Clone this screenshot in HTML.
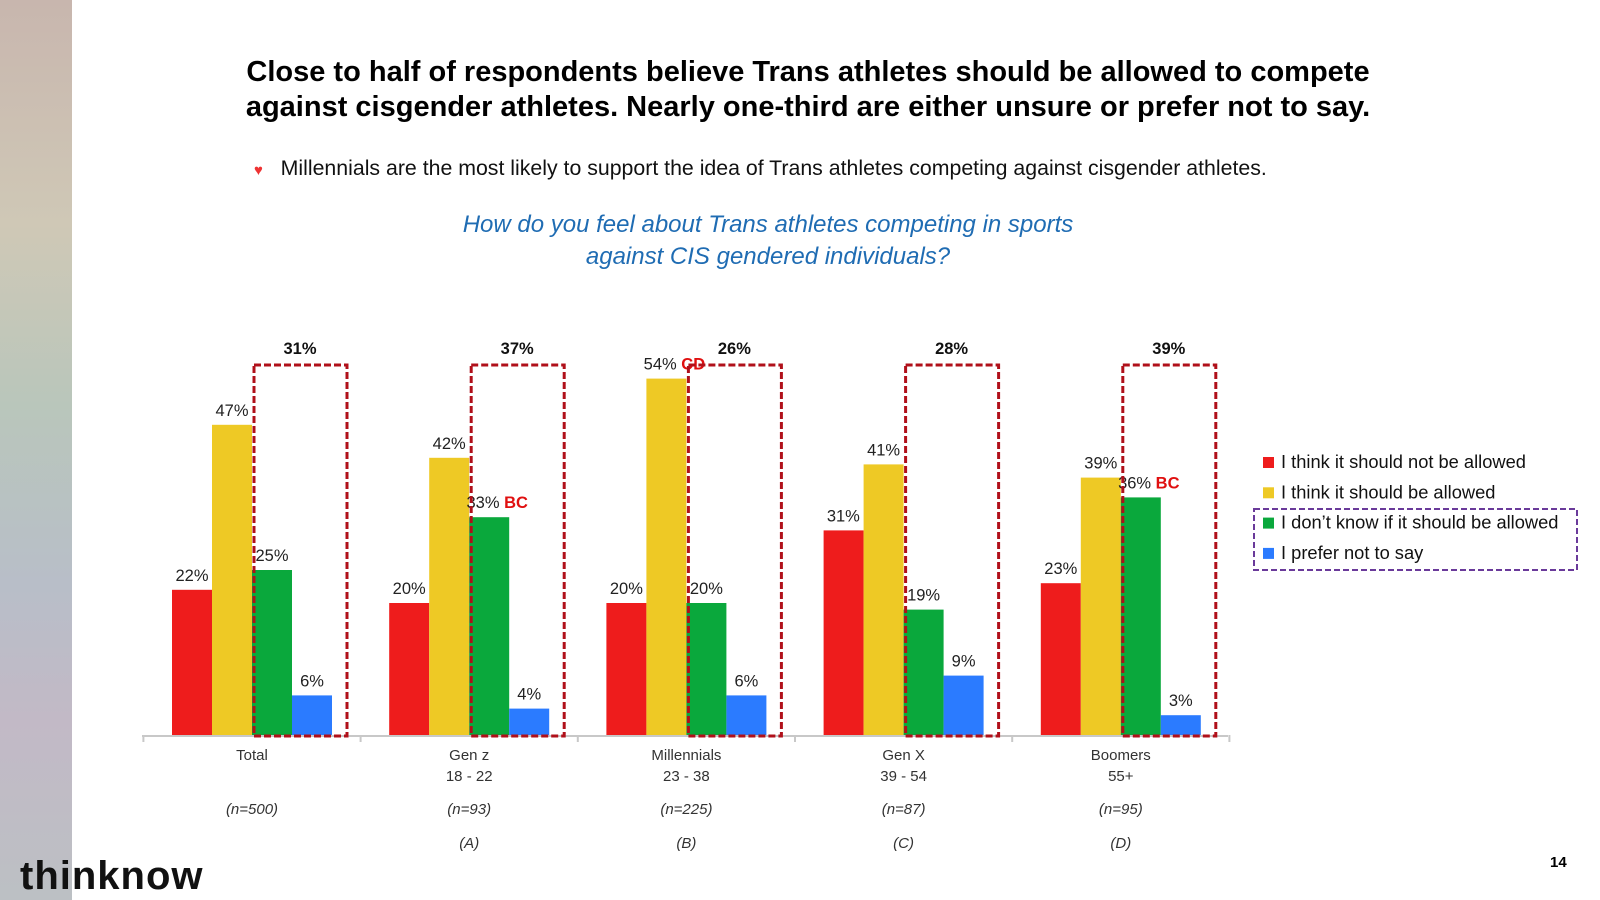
<!DOCTYPE html>
<html><head><meta charset="utf-8">
<style>
html,body{margin:0;padding:0;background:#fff;}
body{width:1600px;height:900px;position:relative;overflow:hidden;font-family:"Liberation Sans",sans-serif;}
.strip{position:absolute;left:0;top:0;width:72px;height:900px;background:linear-gradient(180deg,#c8b6ae 0%,#cfc8b6 25%,#b9c6bb 45%,#b8bec8 65%,#c2b9c6 80%,#bcc0c4 100%);}
.title{position:absolute;left:60px;width:1496px;top:55px;text-align:center;font-weight:bold;font-size:29px;line-height:35px;color:#000;}
.bullet{position:absolute;left:254px;top:156px;font-size:21.3px;color:#111;white-space:nowrap;}
.sub{position:absolute;left:318px;width:900px;top:209px;text-align:center;font-style:italic;font-size:24px;line-height:32px;color:#1f6cb3;}
.logo{position:absolute;left:20px;top:856px;font-size:40px;font-weight:bold;letter-spacing:1px;color:#111;line-height:1;}
.pg{position:absolute;left:1550px;top:854px;font-size:15px;font-weight:bold;}
svg{position:absolute;left:0;top:0;}
</style></head>
<body>
<div class="strip"></div>
<div class="title">Close to half of respondents believe Trans athletes should be allowed to compete<br>against cisgender athletes. Nearly one-third are either unsure or prefer not to say.</div>
<div class="bullet"><span style="color:#e33;font-size:15px">&#9829;</span>&nbsp;&nbsp;&nbsp;Millennials are the most likely to support the idea of Trans athletes competing against cisgender athletes.</div>
<div class="sub">How do you feel about Trans athletes competing in sports<br>against CIS gendered individuals?</div>
<div class="logo">thinknow</div>
<div class="pg">14</div>
<svg id="chart" width="1600" height="900"></svg>
<script>
const categories=["Total","Gen z","Millennials","Gen X","Boomers"];
const subLabels=["","18 - 22","23 - 38","39 - 54","55+"];
const sampleSizes=["(n=500)","(n=93)","(n=225)","(n=87)","(n=95)"];
const groupCodes=["","(A)","(B)","(C)","(D)"];
const seriesNames=["I think it should not be allowed","I think it should be allowed","I don\u2019t know if it should be allowed","I prefer not to say"];
const notAllowed=[22,20,20,31,23];
const allowed=[47,42,54,41,39];
const dontKnow=[25,33,20,19,36];
const preferNot=[6,4,6,9,3];
const boxTotals=["31%","37%","26%","28%","39%"];
const sigLetters=[["","","",""],["","","BC",""],["","CD","",""],["B","","",""],["","","BC",""]];
const colors=["#ee1c1c","#eec925","#0aa83c","#2b7bff"];
const series=[notAllowed,allowed,dontKnow,preferNot];
const svg=document.getElementById('chart');
const NS='http://www.w3.org/2000/svg';
const baseY=735,pxPer=6.6,x0=252,step=217.2,bw=40;
const y=v=>baseY-v*pxPer;
const cx=i=>x0+i*step;
function mk(t,a){const e=document.createElementNS(NS,t);for(const k in a)e.setAttribute(k,a[k]);svg.appendChild(e);return e;}
let ax=mk('line',{x1:142,x2:142+5*step,y1:baseY+1,y2:baseY+1,stroke:'#c8c8c8','stroke-width':2});


for(let i=0;i<=categories.length;i++){const tx=cx(i)-step/2;
 let t=mk('line',{x1:tx,x2:tx,y1:baseY,y2:baseY+7,stroke:'#c8c8c8','stroke-width':2});
 
 }
categories.forEach((c,i)=>{
 series.forEach((s,j)=>{
  const bx=cx(i)-80+j*bw;
  let r=mk('rect',{x:bx,y:y(s[i]),width:bw,height:s[i]*pxPer,fill:colors[j]});
  
  
  let t=mk('text',{x:bx+bw/2,y:y(s[i])-9,'text-anchor':'middle','font-size':16.5,fill:'#222'});
  t.textContent=s[i]+'%';
  if(sigLetters[i][j]){t.setAttribute('x',bx+bw/2+8);const ts=document.createElementNS(NS,'tspan');ts.setAttribute('fill','#e01010');ts.setAttribute('font-weight','bold');ts.textContent=' '+sigLetters[i][j];t.appendChild(ts);}
  
  
 });
 let b=mk('rect',{x:cx(i)+2,y:365,width:93,height:baseY+1-365,fill:'none',stroke:'#b0101a','stroke-width':3,'stroke-dasharray':'7 3'});
 
 
 let bt=mk('text',{x:cx(i)+48,y:354,'text-anchor':'middle','font-size':16.5,'font-weight':'bold',fill:'#111'});
 bt.textContent=boxTotals[i];
 
 
 [[categories[i],760,''],[subLabels[i],781,''],[sampleSizes[i],814,'italic'],[groupCodes[i],848,'italic']].forEach(([s,yy,st])=>{
  if(!s)return;
  let l=mk('text',{x:cx(i),y:yy,'text-anchor':'middle','font-size':15,fill:'#333','font-style':st||'normal'});
  l.textContent=s;
  
  
 });
});
seriesNames.forEach((n,j)=>{
 const ly=462+j*30.3;
 let s=mk('rect',{x:1263,y:ly-5,width:11,height:11,fill:colors[j]});
 
 
 let t=mk('text',{x:1281,y:ly+6,'font-size':18.3,fill:'#111'});
 t.textContent=n;
 
 
});
let lb=mk('rect',{x:1254,y:509,width:323,height:61,fill:'none',stroke:'#6a3a9a','stroke-width':2,'stroke-dasharray':'6 3'});


</script>
</body></html>
